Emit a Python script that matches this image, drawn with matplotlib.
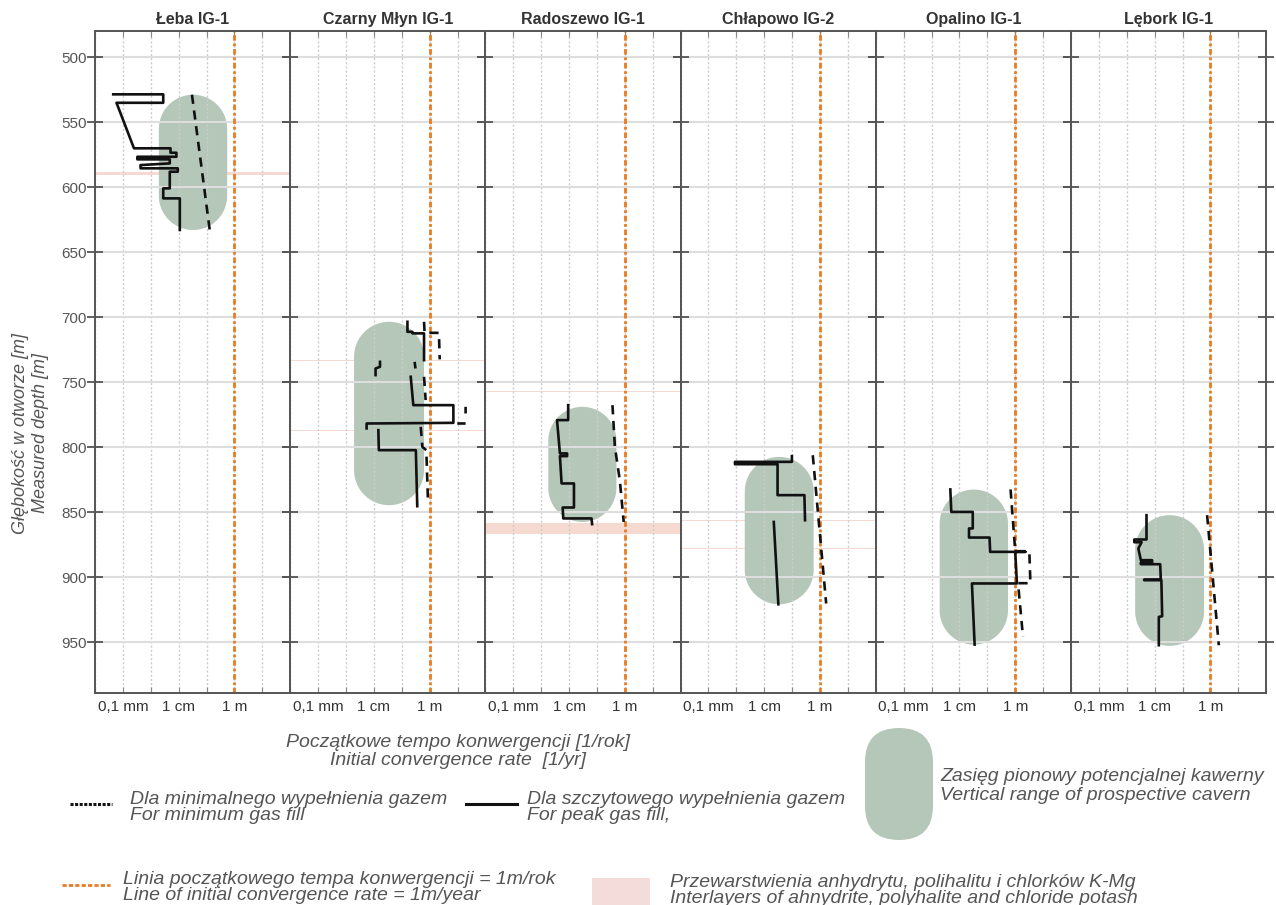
#!/usr/bin/env python3
"""
Convergence-rate logs for six boreholes with prospective cavern ranges.
Saves out.png (1276x905).
"""

import numpy as np
import matplotlib
matplotlib.use("Agg")
import matplotlib.pyplot as plt
from matplotlib.patches import Polygon, FancyBboxPatch, Rectangle
from matplotlib.ticker import FixedLocator, FuncFormatter, NullLocator

plt.rcParams['font.family'] = ['Liberation Sans', 'DejaVu Sans']

nan = np.nan

WELLS = ["Łeba IG-1", "Czarny Młyn IG-1", "Radoszewo IG-1",
         "Chłapowo IG-2", "Opalino IG-1", "Lębork IG-1"]

# Peak gas fill (solid) - depth [m] vs initial convergence rate [m/yr]; nan breaks a line
LEBA_PEAK_DEPTH = [528.7, 528.7, 535.2, 535.2, 570.2, 570.2, 573.6, 573.6, 576.7, 576.7, 578.7, 578.7,
                   581.8, 583.1, 585.6, 585.6, 588.2, 588.2, 601.0, 601.0, 608.7, 608.7, 633.0]
LEBA_PEAK_RATE = [4.5e-5, 2.8e-3, 2.8e-3, 5.9e-5, 2.5e-4, 5.1e-3, 5.1e-3, 8.3e-3, 8.3e-3, 3.3e-4, 3.3e-4, 4.8e-3,
                  4.8e-3, 4.3e-4, 4.3e-4, 9.3e-3, 9.3e-3, 4.8e-3, 4.8e-3, 2.8e-3, 2.8e-3, 1.1e-2, 1.1e-2]
LEBA_MIN_DEPTH = [529.0, 633.0]
LEBA_MIN_RATE = [0.030, 0.13]

CZARNY_PEAK_DEPTH = [703.6, 711.3, 711.3, 712.5, 712.5, 733.1, nan,
                     734.4, 738.2, 739.5, 744.6, nan,
                     745.9, 767.7, 767.7, 781.3, 781.8, 785.6, nan,
                     786.9, 802.3, 802.3, 845.4]
CZARNY_PEAK_RATE = [0.16, 0.16, 0.24, 0.24, 0.63, 0.63, nan,
                    0.0166, 0.0166, 0.0115, 0.0115, nan,
                    0.21, 0.26, 7.1, 7.1, 0.0055, 0.0055, nan,
                    0.0145, 0.0151, 0.32, 0.36]
CZARNY_MIN_DEPTH = [703.6, 712.1, 712.1, 732.5, nan, 734.4, 739.5, nan, 745.9, 763.8, nan,
                    769.0, 774.1, nan, 781.8, 781.8, nan, 784.4, 799.8, 802.3, 840.8]
CZARNY_MIN_RATE = [0.63, 0.66, 2.15, 2.3, nan, 0.29, 0.31, nan, 0.63, 0.72, nan,
                   19.5, 19.5, nan, 9.8, 19.5, nan, 0.48, 0.55, 0.76, 0.87]

RADOSZEWO_PEAK_DEPTH = [767.7, 779.2, 779.2, 804.8, 804.8, 806.9, 806.9, 827.9, 827.9, 846.4,
                        846.4, 854.8, 854.8, 859.2]
RADOSZEWO_PEAK_RATE = [9.3e-3, 9.3e-3, 3.7e-3, 4.7e-3, 8.5e-3, 8.5e-3, 4.7e-3, 5.4e-3, 1.5e-2, 1.5e-2,
                       5.9e-3, 6.2e-3, 0.064, 0.067]
RADOSZEWO_MIN_DEPTH = [767.7, 799.8, 825.4, 857.5]
RADOSZEWO_MIN_RATE = [0.36, 0.44, 0.66, 0.91]

CHLAPOWO_PEAK_DEPTH = [806.9, 811.3, 811.3, 813.1, 813.1, 836.9, 836.9, 856.2, nan, 857.5, 920.8]
CHLAPOWO_PEAK_RATE = [0.098, 0.098, 8.9e-4, 8.9e-4, 0.030, 0.030, 0.275, 0.29, nan, 0.022, 0.032]
CHLAPOWO_MIN_DEPTH = [806.2, 920.2]
CHLAPOWO_MIN_RATE = [0.55, 1.66]

OPALINO_PEAK_DEPTH = [832.5, 849.8, 849.8, 862.5, 862.5, 869.5, 869.5, 880.5, 880.5, 880.5,
                      904.8, 904.8, 951.8]
OPALINO_PEAK_RATE = [4.7e-3, 5.1e-3, 0.030, 0.030, 0.022, 0.022, 0.12, 0.126, 2.3, 1.0,
                     1.15, 0.028, 0.035]
OPALINO_MIN_DEPTH = [832.5, 880.0, 880.0, 904.6, 904.6, 945.9]
OPALINO_MIN_RATE = [0.68, 1.0, 3.2, 3.5, 1.26, 1.9]

LEBORK_PEAK_DEPTH = [852.3, 871.0, 871.0, 873.1, 873.1, 877.9, 886.9, 886.9, 888.7, 888.7,
                     890.0, 890.0, 901.8, 901.8, 902.3, 902.3, 930.0, 930.5, 952.3]
LEBORK_PEAK_RATE = [5.1e-3, 5.1e-3, 1.86e-3, 1.86e-3, 3.4e-3, 2.6e-3, 3.2e-3, 8.1e-3, 8.1e-3, 3.2e-3,
                    3.2e-3, 0.0158, 0.0166, 4.2e-3, 4.2e-3, 0.0174, 0.0186, 0.0141, 0.0141]
LEBORK_MIN_DEPTH = [852.3, 952.3]
LEBORK_MIN_RATE = [0.76, 2.0]

PEAK_DEPTHS = [LEBA_PEAK_DEPTH, CZARNY_PEAK_DEPTH, RADOSZEWO_PEAK_DEPTH,
               CHLAPOWO_PEAK_DEPTH, OPALINO_PEAK_DEPTH, LEBORK_PEAK_DEPTH]
PEAK_RATES = [LEBA_PEAK_RATE, CZARNY_PEAK_RATE, RADOSZEWO_PEAK_RATE,
              CHLAPOWO_PEAK_RATE, OPALINO_PEAK_RATE, LEBORK_PEAK_RATE]
MIN_DEPTHS = [LEBA_MIN_DEPTH, CZARNY_MIN_DEPTH, RADOSZEWO_MIN_DEPTH,
              CHLAPOWO_MIN_DEPTH, OPALINO_MIN_DEPTH, LEBORK_MIN_DEPTH]
MIN_RATES = [LEBA_MIN_RATE, CZARNY_MIN_RATE, RADOSZEWO_MIN_RATE,
             CHLAPOWO_MIN_RATE, OPALINO_MIN_RATE, LEBORK_MIN_RATE]

# Prospective cavern: depth range and rate extent of the drawn capsule
CAVERN_TOP = [529.0, 703.6, 769.0, 807.5, 832.6, 852.3]
CAVERN_BOTTOM = [633.0, 844.6, 857.5, 920.8, 951.8, 952.8]
CAVERN_RATE_LO = [1.95e-3, 1.95e-3, 1.8e-3, 2.0e-3, 1.95e-3, 2.0e-3]
CAVERN_RATE_HI = [0.55, 0.63, 0.50, 0.59, 0.55, 0.59]

# Interlayers of anhydrite / polyhalite / K-Mg chlorides (top, bottom) [m]
INTERLAYERS = [
    [(588.5, 590.5)],
    [(733.0, 734.0), (786.5, 787.2)],
    [(756.6, 757.4), (858.2, 866.4)],
    [(855.7, 856.5), (877.4, 878.2)],
    [],
    [],
]

RATE_LINE = 1.0  # 1 m/yr
DEPTH_TICKS = [500, 550, 600, 650, 700, 750, 800, 850, 900, 950]
XTICK_LABELS = {-4: "0,1 mm", -2: "1 cm", 0: "1 m"}

# Colours
CAVERN_COLOR = "#b5c7b9"
PINK = "#f6d9d1"
ORANGE = "#e97b22"
TEXT_GRAY = "#555555"


def draw_capsule(ax, lo, hi, top, bottom, **kw):
    """Rounded (stadium) shape in log-x / linear-y data space with circular ends on screen."""
    x0, x1 = ax.get_xlim()
    y_lo, y_hi = sorted(ax.get_ylim())
    px_dec = ax.bbox.width / (np.log10(x1) - np.log10(x0))
    px_m = ax.bbox.height / (y_hi - y_lo)
    l0, l1 = np.log10(lo), np.log10(hi)
    cx, r = (l0 + l1) / 2, (l1 - l0) / 2
    rm = min(r * px_dec / px_m, (bottom - top) / 2)
    t = np.linspace(0, np.pi, 80)
    xs = np.concatenate([cx + r * np.cos(t), cx + r * np.cos(t + np.pi)])
    ys = np.concatenate([top + rm - rm * np.sin(t), bottom - rm - rm * np.sin(t + np.pi)])
    ax.add_patch(Polygon(np.column_stack([10 ** xs, ys]), closed=True, **kw))


W, H = 1276, 905
fig = plt.figure(figsize=(W / 100, H / 100), dpi=100)

ax_left, ax_w = 95 / W, 195.2 / W
ax_bottom, ax_h = 1 - 692.7 / H, (692.7 - 31) / H

for i, name in enumerate(WELLS):
    ax = fig.add_axes([ax_left + i * ax_w, ax_bottom, ax_w, ax_h])
    ax.set_xscale('log')
    ax.set_xlim(1e-5, 1e2)
    ax.set_ylim(988.8, 480)

    for top, bottom in INTERLAYERS[i]:
        ax.axhspan(top, bottom, color=PINK, lw=0, zorder=0.8)

    draw_capsule(ax, CAVERN_RATE_LO[i], CAVERN_RATE_HI[i], CAVERN_TOP[i], CAVERN_BOTTOM[i],
                 facecolor=CAVERN_COLOR, edgecolor='none', zorder=1)

    ax.plot(MIN_RATES[i], MIN_DEPTHS[i], color='#111111', lw=1.9, ls=(0, (3.5, 2.5)), zorder=3)
    ax.plot(PEAK_RATES[i], PEAK_DEPTHS[i], color='#111111', lw=1.9, zorder=3)
    ax.axvline(RATE_LINE, color=ORANGE, lw=2.0, ls=(0, (2, 1, 1, 1)), zorder=2.5)

    ax.xaxis.set_major_locator(FixedLocator(10.0 ** np.arange(-5, 3)))
    ax.xaxis.set_minor_locator(NullLocator())
    ax.xaxis.set_major_formatter(FuncFormatter(lambda v, _: XTICK_LABELS.get(int(round(np.log10(v))), "")))
    ax.set_yticks(DEPTH_TICKS)

    ax.grid(axis='y', color='#dedede', lw=1.5, ls='-')
    ax.grid(axis='x', color='#cccccc', lw=1.0, ls=(0, (1.5, 1.5)))

    ax.tick_params(axis='x', which='both', direction='in', length=4, top=True, bottom=True,
                   color='#888888', labelsize=11, labelcolor='#333333', pad=5)
    ax.tick_params(axis='y', direction='inout', length=11, width=1.3, left=True, right=True,
                   color='#555555', labelsize=11, labelcolor=TEXT_GRAY, pad=0.3)
    if i > 0:
        ax.tick_params(axis='y', labelleft=False)

    for s in ax.spines.values():
        s.set_color('#555555')
        s.set_linewidth(1.4)

    ax.set_title(name, fontsize=11.5, fontweight='bold', color='#333333', pad=5)

# Key area drawn in pixel coordinates
key = fig.add_axes([0, 0, 1, 1])
key.set_xlim(0, W)
key.set_ylim(H, 0)
key.axis('off')
key.patch.set_visible(False)

txt = dict(color=TEXT_GRAY, style='italic', fontsize=14, va='center')

key.text(30.5, 433, "Głębokość w otworze [m]\nMeasured depth [m]", rotation=90,
         ha='center', multialignment='center', linespacing=1.25,
         color=TEXT_GRAY, style='italic', fontsize=13, va='center')

key.text(458, 742, "Początkowe tempo konwergencji [1/rok]", ha='center', **txt)
key.text(458, 760, "Initial convergence rate  [1/yr]", ha='center', **txt)

key.plot([70, 112], [804, 804], color='#111111', lw=2.2, ls=(0, (1.0, 0.5)))
key.text(130, 799, "Dla minimalnego wypełnienia gazem", ha='left', **txt)
key.text(130, 815, "For minimum gas fill", ha='left', **txt)

key.plot([466, 517], [804, 804], color='#111111', lw=2.2)
key.text(527, 799, "Dla szczytowego wypełnienia gazem", ha='left', **txt)
key.text(527, 815, "For peak gas fill,", ha='left', **txt)

key.add_patch(FancyBboxPatch((865, 728), 68, 112, boxstyle="round,pad=0,rounding_size=34",
                             facecolor=CAVERN_COLOR, edgecolor='none'))
key.text(940, 776, "Zasięg pionowy potencjalnej kawerny", ha='left', **txt)
key.text(940, 795, "Vertical range of prospective cavern", ha='left', **txt)

key.plot([62, 110], [885, 885], color=ORANGE, lw=2.0, ls=(0, (1.5, 0.8)))
key.text(123, 879, "Linia początkowego tempa konwergencji = 1m/rok", ha='left', **txt)
key.text(123, 895, "Line of initial convergence rate = 1m/year", ha='left', **txt)

key.add_patch(Rectangle((592, 878), 58, 30, facecolor='#f3dcd9', edgecolor='none'))
key.text(670, 882, "Przewarstwienia anhydrytu, polihalitu i chlorków K-Mg", ha='left', **txt)
key.text(670, 898, "Interlayers of ahnydrite, polyhalite and chloride potash", ha='left', **txt)

fig.savefig("out.png", dpi=100)
